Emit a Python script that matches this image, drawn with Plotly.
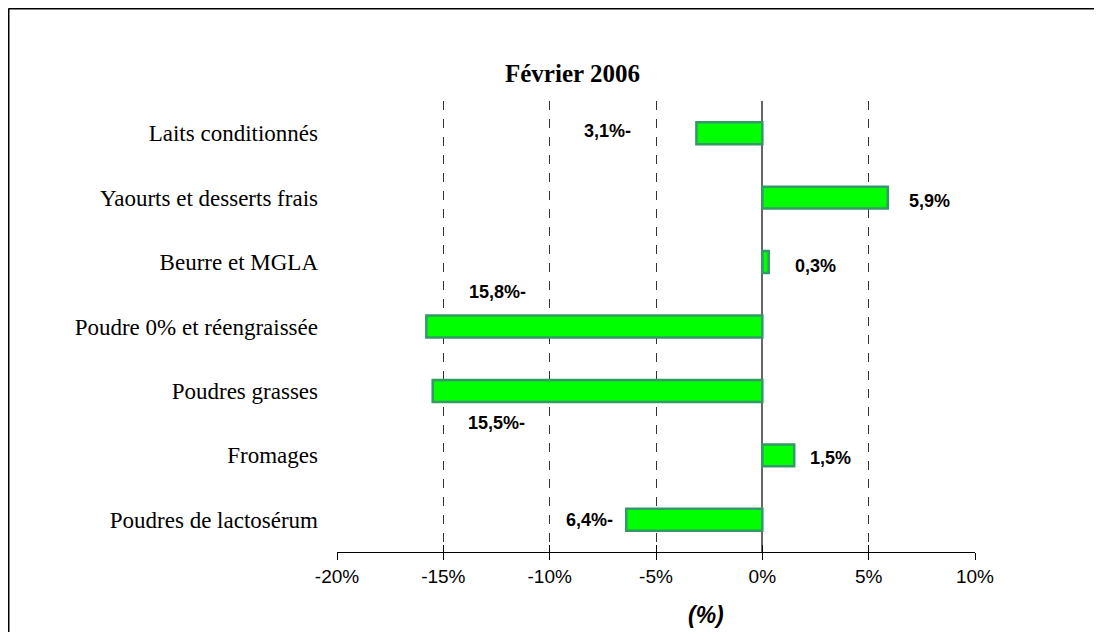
import plotly.graph_objects as go

categories = ["Laits conditionnés", "Yaourts et desserts frais", "Beurre et MGLA",
              "Poudre 0% et réengraissée", "Poudres grasses", "Fromages",
              "Poudres de lactosérum"]
values = [-3.1, 5.9, 0.3, -15.8, -15.5, 1.5, -6.4]
value_labels = ["3,1%-", "5,9%", "0,3%", "15,8%-", "15,5%-", "1,5%", "6,4%-"]
tick_vals = [-20, -15, -10, -5, 0, 5, 10]
tick_text = ["-20%", "-15%", "-10%", "-5%", "0%", "5%", "10%"]
grid_vals = [-15, -10, -5, 5]

# label offsets in pixels (style/position)
label_dx = [-63, 19, 24, 102, 94, 14, -11]
label_dy = [2, -3, -4, 35, -32, -3, 0]

W, H = 1086, 624
L, T = 329, 93
PW, PH = 638, 451
R, B = W - L - PW, H - T - PH

fig = go.Figure()
fig.add_trace(go.Bar(
    x=values, y=categories, orientation="h", width=0.34,
    marker=dict(color="#00FF00", line=dict(color="#339966", width=2.5)),
    showlegend=False, hoverinfo="skip"))
# dummy traces so overlay axes exist
fig.add_trace(go.Scatter(x=[None], y=[None], xaxis="x2", showlegend=False, hoverinfo="skip"))
fig.add_trace(go.Scatter(x=[None], y=[None], xaxis="x3", showlegend=False, hoverinfo="skip"))

sans = "Liberation Sans, Arial, sans-serif"
serif = "Liberation Serif, Times New Roman, serif"

for v, c, t, dx, dy in zip(values, categories, value_labels, label_dx, label_dy):
    fig.add_annotation(x=v, y=c, xref="x", yref="y", text=t, showarrow=False,
                       xanchor="left" if v >= 0 else "right", xshift=dx, yshift=dy,
                       font=dict(family=sans, size=18, color="black", weight="bold"))

fig.update_layout(
    width=W, height=H, margin=dict(l=L, r=R, t=T, b=B),
    paper_bgcolor="white", plot_bgcolor="white",
    xaxis=dict(range=[-20, 10], tickvals=tick_vals, ticktext=tick_text,
               showgrid=False, zeroline=True, zerolinecolor="#666666", zerolinewidth=1.5,
               showline=True, linecolor="black", linewidth=1.2,
               ticks="outside", ticklen=7, tickcolor="black", tickwidth=1.2,
               tickfont=dict(family=sans, size=19, color="black")),
    xaxis2=dict(range=[-20, 10], overlaying="x", anchor="y", side="bottom",
                tickvals=grid_vals, showticklabels=False, ticks="",
                showgrid=True, griddash="dash", gridcolor="#333333", gridwidth=1,
                zeroline=False, showline=False),
    xaxis3=dict(range=[-20, 10], overlaying="x", anchor="y", side="bottom",
                tickvals=tick_vals, showticklabels=False, ticks="inside",
                ticklen=7, tickcolor="black", tickwidth=1.2,
                showgrid=False, zeroline=False, showline=False),
    yaxis=dict(autorange="reversed", showgrid=False, zeroline=False, showline=False,
               ticks="", ticklabelstandoff=18,
               tickfont=dict(family=serif, size=23, color="black")),
)

fig.add_annotation(text="Février 2006", xref="paper", yref="paper",
                   x=(564 - L) / PW, y=(H - B - 65) / PH, showarrow=False,
                   xanchor="center", yanchor="middle",
                   font=dict(family=serif, size=25, color="black", weight="bold"))
fig.add_annotation(text="<b><i>(%)</i></b>", xref="paper", yref="paper",
                   x=(698 - L) / PW, y=(H - B - 607) / PH, showarrow=False,
                   xanchor="center", yanchor="middle",
                   font=dict(family=sans, size=23, color="black"))

# chart frame: top and left edges only (the rest lies outside the picture)
fx0 = (0.5 - L) / PW
fy1 = (H - B - 0.5) / PH
fig.add_shape(type="line", xref="paper", yref="paper",
              x0=fx0, x1=(W + 60 - L) / PW, y0=fy1, y1=fy1,
              line=dict(color="black", width=2), layer="below")
fig.add_shape(type="line", xref="paper", yref="paper",
              x0=fx0, x1=fx0, y0=(H - B - H - 60) / PH, y1=fy1,
              line=dict(color="black", width=2), layer="below")

fig.write_html("out.html")
